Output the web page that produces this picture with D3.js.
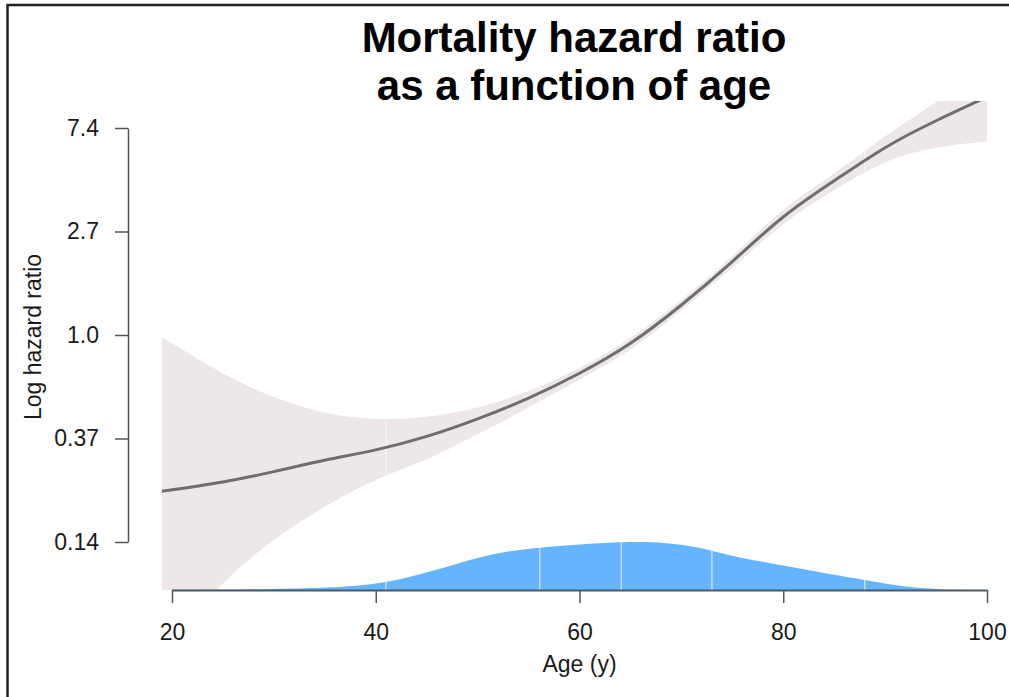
<!DOCTYPE html>
<html>
<head>
<meta charset="utf-8">
<script src="https://cdn.jsdelivr.net/npm/d3@7"></script>
<style>
  body { margin: 0; background: #fff; overflow: hidden; }
  svg { display: block; }
  text { font-family: "Liberation Sans", Arial, sans-serif; }
</style>
</head>
<body>
<div id="chart"></div>
<script>
// fitted log hazard ratio and its confidence band, by age
var ages      = [19, 25, 30, 35, 40, 45, 50, 55, 60, 65, 70, 75, 80, 85, 90, 95, 100];
var logHR     = [-1.51, -1.42, -1.32, -1.21, -1.11, -0.98, -0.81, -0.61, -0.37, -0.08, 0.29, 0.71, 1.14, 1.49, 1.81, 2.07, 2.30];
var upperCI   = [-0.02, -0.37, -0.60, -0.75, -0.81, -0.79, -0.70, -0.54, -0.32, -0.03, 0.34, 0.76, 1.21, 1.56, 1.92, 2.25, 2.60];
var lowerCI   = [-3.00, -2.40, -1.98, -1.66, -1.40, -1.20, -0.96, -0.70, -0.43, -0.14, 0.24, 0.65, 1.07, 1.40, 1.67, 1.81, 1.87];

// age distribution of the cohort (% per year)
var densAges  = [20, 25, 30, 35, 38, 41, 43, 47, 50, 53, 56, 60, 64, 67, 70, 73, 75, 80, 84, 88, 92, 95, 100];
var densPct   = [0.015, 0.025, 0.05, 0.11, 0.2, 0.38, 0.62, 1.15, 1.63, 1.95, 2.12, 2.28, 2.40, 2.41, 2.29, 1.97, 1.68, 1.22, 0.85, 0.50, 0.14, 0.03, 0];
var quantileAges = [41, 56.1, 64.1, 73, 88];

var xTicks = [20, 40, 60, 80, 100];
var yTicks = [-2, -1, 0, 1, 2];
var yTickLabels = ["0.14", "0.37", "1.0", "2.7", "7.4"];

var width = 1009, height = 697;

var svg = d3.select("#chart").append("svg")
    .attr("width", width)
    .attr("height", height);

var x = d3.scaleLinear().domain([20, 100]).range([172, 987]);
var y = d3.scaleLinear().domain([-2, 2]).range([542, 128]);
var yd = d3.scaleLinear().domain([0, 2.4]).range([590, 542]);

var defs = svg.append("defs");
defs.append("clipPath")
    .attr("id", "plotclip")
  .append("rect")
    .attr("x", 140).attr("y", 101)
    .attr("width", 860).attr("height", 489);

var band = ages.map((a, i) => ({age: a, lo: lowerCI[i], hi: upperCI[i], fit: logHR[i]}));
var dens = densAges.map((a, i) => ({age: a, v: densPct[i]}));

var bandArea = d3.area()
    .x(d => x(d.age))
    .y0(d => y(d.lo))
    .y1(d => y(d.hi))
    .curve(d3.curveNatural);

var densArea = d3.area()
    .x(d => x(d.age))
    .y0(yd(0))
    .y1(d => yd(d.v))
    .curve(d3.curveBasis);

defs.append("clipPath").attr("id", "bandclip")
  .append("path").attr("d", bandArea(band));
defs.append("clipPath").attr("id", "densclip")
  .append("path").attr("d", densArea(dens));

var plot = svg.append("g").attr("clip-path", "url(#plotclip)");

plot.append("path")
    .attr("d", bandArea(band))
    .attr("fill", "#ede7e7");

// faint seams in the band at the quantiles
plot.append("g").attr("clip-path", "url(#bandclip)")
  .selectAll("line")
  .data(quantileAges)
  .join("line")
    .attr("x1", d => x(d)).attr("x2", d => x(d))
    .attr("y1", 0).attr("y2", 600)
    .attr("stroke", "#fff")
    .attr("stroke-width", 1)
    .attr("opacity", 0.8);

plot.append("path")
    .attr("d", densArea(dens))
    .attr("fill", "#64b5fd");

plot.append("g").attr("clip-path", "url(#densclip)")
  .selectAll("line")
  .data(quantileAges)
  .join("line")
    .attr("x1", d => x(d)).attr("x2", d => x(d))
    .attr("y1", 500).attr("y2", 600)
    .attr("stroke", "#d8ecff")
    .attr("stroke-width", 1.2);

plot.append("path")
    .datum(band)
    .attr("fill", "none")
    .attr("stroke", "#6e6e6e")
    .attr("stroke-width", 3)
    .attr("d", d3.line().x(d => x(d.age)).y(d => y(d.fit)).curve(d3.curveNatural));

// axes, R style
var xAxis = svg.append("g")
    .attr("transform", "translate(0,590)")
    .call(d3.axisBottom(x).tickValues(xTicks).tickSize(13).tickSizeOuter(0).tickPadding(21));
xAxis.select(".domain").attr("stroke", "#4d5a66").attr("stroke-width", 2);
xAxis.selectAll(".tick line").attr("stroke", "#555").attr("stroke-width", 1.5);
xAxis.selectAll(".tick text").attr("font-size", 23).attr("fill", "#1a1a1a")
    .attr("font-family", "'Liberation Sans', Arial, sans-serif");

var yAxis = svg.append("g")
    .attr("transform", "translate(128,0)")
    .call(d3.axisLeft(y).tickValues(yTicks).tickSize(13).tickSizeOuter(0).tickPadding(16)
        .tickFormat((d, i) => yTickLabels[i]));
yAxis.select(".domain").attr("stroke", "#555").attr("stroke-width", 1.5);
yAxis.selectAll(".tick line").attr("stroke", "#555").attr("stroke-width", 1.5);
yAxis.selectAll(".tick text").attr("font-size", 23).attr("fill", "#1a1a1a")
    .attr("font-family", "'Liberation Sans', Arial, sans-serif");

svg.append("text")
    .attr("x", x(60)).attr("y", 672)
    .attr("text-anchor", "middle")
    .attr("font-size", 23).attr("fill", "#1a1a1a")
    .text("Age (y)");

svg.append("text")
    .attr("transform", "translate(41,337) rotate(-90)")
    .attr("text-anchor", "middle")
    .attr("font-size", 23).attr("fill", "#1a1a1a")
    .text("Log hazard ratio");

var title = svg.append("text")
    .attr("text-anchor", "middle")
    .attr("font-size", 42).attr("font-weight", "bold").attr("fill", "#000");
title.append("tspan").attr("x", 574).attr("y", 52).text("Mortality hazard ratio");
title.append("tspan").attr("x", 574).attr("y", 100).text("as a function of age");

// frame: only top and left edges show in the picture
svg.append("path")
    .attr("d", "M1012,5 H7.5 V700")
    .attr("fill", "none")
    .attr("stroke", "#222")
    .attr("stroke-width", 2.5);
</script>
</body>
</html>
